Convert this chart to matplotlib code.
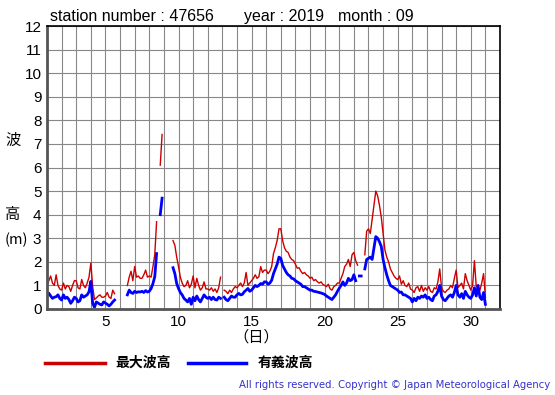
import matplotlib
matplotlib.use("Agg")
import matplotlib.pyplot as plt
import numpy as np

nan = np.nan

# 3-hourly values, one row per day (Sep 1 .. Sep 30), plus the final point at day 31.0
max_wave = [
    [1.0, 1.2, 1.4, 1.1, 1.0, 1.45, 1.0, 0.85],      # 1
    [0.8, 1.1, 0.85, 1.0, 0.95, 0.75, 1.0, 1.2],     # 2
    [1.2, 0.9, 0.85, 1.25, 1.0, 0.9, 1.1, 1.35],     # 3
    [1.95, 0.95, 0.4, 0.47, 0.55, 0.6, 0.5, 0.5],    # 4
    [0.55, 0.7, 0.5, 0.45, 0.8, 0.65, nan, nan],     # 5
    [nan, nan, nan, nan, 1.0, 1.35, 1.6, 1.2],       # 6
    [1.8, 1.35, 1.4, 1.3, 1.3, 1.45, 1.65, 1.35],    # 7
    [1.4, 1.35, 1.8, 2.3, 3.7, nan, 6.1, 7.4],       # 8
    [nan, nan, nan, nan, nan, 2.9, 2.7, 2.2],        # 9
    [1.8, 1.35, 1.1, 0.95, 1.0, 1.2, 0.9, 1.05],     # 10
    [1.4, 0.9, 1.3, 1.0, 0.8, 0.9, 1.15, 0.85],      # 11
    [0.85, 0.8, 0.9, 0.75, 0.85, 0.7, 0.9, 1.35],    # 12
    [nan, 0.8, 0.75, 0.65, 0.8, 0.7, 0.85, 0.95],    # 13
    [0.9, 1.0, 1.1, 0.95, 1.1, 1.55, 1.0, 1.1],      # 14
    [1.2, 1.3, 1.45, 1.3, 1.37, 1.8, 1.55, 1.65],    # 15
    [1.65, 1.5, 1.6, 1.8, 2.35, 2.6, 2.9, 3.4],      # 16
    [3.4, 2.9, 2.6, 2.45, 2.4, 2.2, 2.1, 2.05],      # 17
    [1.9, 1.73, 1.75, 1.6, 1.5, 1.55, 1.45, 1.4],    # 18
    [1.3, 1.35, 1.2, 1.25, 1.16, 1.1, 1.15, 1.05],   # 19
    [1.0, 0.95, 1.05, 0.85, 0.8, 0.95, 1.0, 1.1],    # 20
    [1.1, 1.3, 1.5, 1.8, 1.9, 2.1, 1.8, 2.3],        # 21
    [2.4, 2.05, 1.86, nan, nan, nan, 2.3, 3.3],      # 22
    [3.4, 3.2, 3.8, 4.4, 5.0, 4.8, 4.4, 3.9],        # 23
    [3.2, 2.5, 2.2, 2.0, 1.7, 1.55, 1.4, 1.3],       # 24
    [1.25, 1.4, 1.05, 1.2, 1.0, 0.95, 1.1, 0.85],    # 25
    [0.8, 0.7, 0.9, 0.95, 0.75, 1.0, 0.75, 0.9],     # 26
    [0.8, 0.95, 0.75, 0.7, 0.9, 0.85, 1.15, 1.7],    # 27
    [0.9, 0.75, 0.7, 0.8, 0.85, 1.0, 0.9, 1.3],      # 28
    [1.65, 0.9, 1.0, 1.1, 0.85, 1.5, 1.2, 1.0],      # 29
    [0.8, 1.0, 2.05, 0.95, 0.9, 0.8, 1.1, 1.5],      # 30
    [0.5],
]

sig_wave = [
    [0.6, 0.67, 0.55, 0.45, 0.5, 0.52, 0.6, 0.45],   # 1
    [0.38, 0.6, 0.45, 0.5, 0.4, 0.24, 0.35, 0.5],    # 2
    [0.45, 0.3, 0.35, 0.6, 0.5, 0.55, 0.6, 0.73],    # 3
    [1.17, 0.24, 0.07, 0.3, 0.25, 0.2, 0.17, 0.3],   # 4
    [0.25, 0.2, 0.13, 0.2, 0.3, 0.38, nan, nan],     # 5
    [nan, nan, nan, nan, 0.6, 0.8, 0.7, 0.66],       # 6
    [0.75, 0.7, 0.73, 0.72, 0.75, 0.7, 0.78, 0.72],  # 7
    [0.75, 0.87, 1.08, 1.37, 2.35, nan, 4.0, 4.7],   # 8
    [nan, nan, nan, nan, nan, 1.75, 1.5, 1.08],      # 9
    [0.87, 0.7, 0.6, 0.45, 0.38, 0.3, 0.45, 0.2],    # 10
    [0.5, 0.35, 0.55, 0.4, 0.3, 0.45, 0.6, 0.5],     # 11
    [0.45, 0.5, 0.4, 0.5, 0.4, 0.38, 0.5, 0.45],     # 12
    [nan, 0.5, 0.4, 0.35, 0.45, 0.55, 0.5, 0.5],     # 13
    [0.6, 0.66, 0.6, 0.62, 0.73, 0.8, 0.87, 0.75],   # 14
    [0.8, 0.9, 1.0, 0.95, 1.0, 1.08, 1.05, 1.15],    # 15
    [1.15, 1.05, 1.1, 1.22, 1.5, 1.7, 1.9, 2.2],     # 16
    [2.15, 1.85, 1.7, 1.55, 1.45, 1.4, 1.3, 1.28],   # 17
    [1.2, 1.15, 1.1, 1.05, 0.95, 0.95, 0.9, 0.85],   # 18
    [0.8, 0.8, 0.75, 0.74, 0.72, 0.7, 0.68, 0.65],   # 19
    [0.62, 0.55, 0.5, 0.45, 0.4, 0.5, 0.6, 0.75],    # 20
    [0.88, 1.0, 1.15, 1.0, 1.1, 1.3, 1.2, 1.25],     # 21
    [1.45, 1.2, nan, 1.4, 1.4, nan, 1.7, 2.1],       # 22
    [2.15, 2.2, 2.1, 2.6, 3.07, 3.0, 2.85, 2.65],    # 23
    [2.1, 1.75, 1.45, 1.2, 1.0, 0.95, 0.9, 0.85],    # 24
    [0.8, 0.7, 0.72, 0.6, 0.6, 0.55, 0.5, 0.45],     # 25
    [0.3, 0.45, 0.35, 0.5, 0.45, 0.55, 0.5, 0.6],    # 26
    [0.45, 0.5, 0.4, 0.35, 0.55, 0.6, 0.75, 1.0],    # 27
    [0.55, 0.4, 0.35, 0.45, 0.55, 0.6, 0.5, 0.7],    # 28
    [1.0, 0.6, 0.5, 0.65, 0.45, 0.75, 0.6, 0.5],     # 29
    [0.45, 0.6, 0.9, 0.55, 1.0, 0.5, 0.4, 0.7],      # 30
    [0.2],
]

station = "47656"
year = "2019"
month = "09"
x_ticks = [5, 10, 15, 20, 25, 30]

hmax = np.array([v for row in max_wave for v in row])
hsig = np.array([v for row in sig_wave for v in row])
t = 1 + np.arange(len(hmax)) / 8.0

W, H = 555, 395
fig = plt.figure(figsize=(W / 100, H / 100), dpi=100)
ax = fig.add_axes([47 / W, 1 - 309 / H, 453 / W, 283 / H])

ax.plot(t, hmax, color="#cc0000", lw=1.0)
ax.plot(t, hsig, color="#0000ff", lw=2.0)

ax.set_xlim(1, 32)
ax.set_ylim(0, 12)
ax.set_xticks(range(1, 33), minor=True)
ax.set_xticks(x_ticks)
ax.set_yticks(range(0, 13))
ax.grid(True, which="both", color="#888888", lw=0.8)
ax.set_axisbelow(True)
ax.tick_params(which="both", length=0, pad=4)
for lab in ax.get_xticklabels() + ax.get_yticklabels():
    lab.set_fontfamily("Liberation Sans")
    lab.set_fontsize(11)
ax.spines["left"].set_linewidth(2)
ax.spines["left"].set_color("#555555")
ax.spines["bottom"].set_linewidth(2)
ax.spines["bottom"].set_color("#555555")
ax.spines["top"].set_linewidth(1.2)
ax.spines["right"].set_linewidth(1.2)


def ftxt(x, y, s, **kw):
    fig.text(x / W, 1 - y / H, s, **kw)


lat = dict(family="Liberation Sans", fontsize=11.5, va="baseline")
ftxt(50, 21, "station number : " + station, **lat)
ftxt(244, 21, "year : " + year, **lat)
ftxt(338, 21, "month : " + month, **lat)

cjk = ["Noto Sans CJK JP", "DejaVu Sans"]
ftxt(13, 140, "波", family=cjk, fontsize=11, ha="center", va="center")
ftxt(13, 214, "高", family=cjk, fontsize=11, ha="center", va="center")
ftxt(16, 240, "(m)", family=cjk, fontsize=10.5, ha="center", va="center")
ftxt(256, 337, "（日）", family=cjk, fontsize=11, ha="center", va="center")

# legend
fig.add_artist(plt.Line2D([45 / W, 105 / W], [1 - 363 / H] * 2, color="#cc0000", lw=2.5))
ftxt(115, 363, "最大波高", family=cjk, fontsize=10, weight="bold", va="center")
fig.add_artist(plt.Line2D([188 / W, 246 / W], [1 - 363 / H] * 2, color="#0000ff", lw=2.5))
ftxt(258, 363, "有義波高", family=cjk, fontsize=10, weight="bold", va="center")

ftxt(550, 385, "All rights reserved. Copyright © Japan Meteorological Agency",
     family="DejaVu Sans", fontsize=7.3, color="#3333cc", ha="right", va="center")

fig.savefig("out.png", dpi=100)
